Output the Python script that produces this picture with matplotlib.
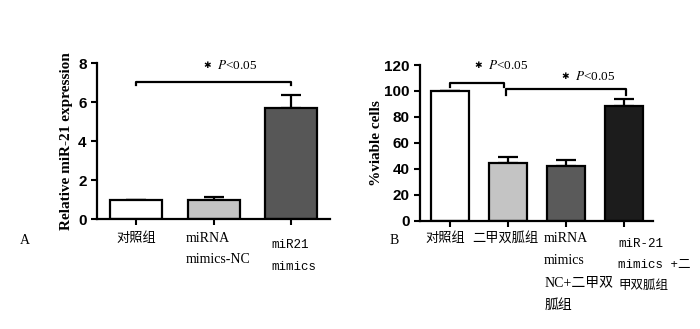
import numpy as np
import matplotlib.pyplot as plt
import matplotlib.transforms as mtransforms

plt.rcParams['mathtext.fontset'] = 'stix'

# panel A: relative miR-21 expression
a_groups = ['对照组', 'miRNA\nmimics-NC', 'miR21\nmimics']
a_values = [1.0, 1.0, 5.7]
a_errors = [0.0, 0.13, 0.68]
a_colors = ['#ffffff', '#c4c4c4', '#575757']

# panel B: % viable cells
b_groups = ['对照组', '二甲双胍组', 'miRNA\nmimics\nNC+二甲双\n胍组', 'miR-21\nmimics +二\n甲双胍组']
b_values = [100.0, 44.2, 41.9, 88.4]
b_errors = [0.0, 4.7, 5.1, 5.4]
b_colors = ['#ffffff', '#c4c4c4', '#5a5a5a', '#1c1c1c']

serif = ['Liberation Serif', 'Noto Sans CJK SC']
mono = ['Liberation Mono', 'Noto Sans CJK SC']
cjk = ['Noto Sans CJK SC', 'Liberation Serif']

fig = plt.figure(figsize=(7, 3.29), dpi=100)
axA = fig.add_axes([0.1386, 0.3343, 0.3329, 0.4742])
axB = fig.add_axes([0.6, 0.329, 0.3329, 0.4733])


def style_axes(ax):
    for s in ['top', 'right']:
        ax.spines[s].set_visible(False)
    for s in ['left', 'bottom']:
        ax.spines[s].set_linewidth(1.6)
    ax.tick_params(axis='both', width=1.5, length=4, direction='out')
    ax.tick_params(axis='x', labelbottom=False)
    for lab in ax.get_yticklabels():
        lab.set_fontfamily('Liberation Sans')
        lab.set_fontweight('bold')
        lab.set_fontsize(11)


def draw_bars(ax, values, errors, colors, width):
    x = np.arange(len(values))
    ax.bar(x, values, width=width, color=colors, edgecolor='black', linewidth=1.6, zorder=2)
    ax.errorbar(x, values, yerr=[np.zeros(len(errors)), errors], fmt='none',
                ecolor='black', elinewidth=1.6, capsize=7, capthick=1.6, zorder=1)
    ax.set_xticks(x)
    return x


def bracket(ax, x0, x1, y, drop):
    ax.plot([x0, x0, x1, x1], [y - drop, y, y, y - drop], color='black', lw=1.6,
            clip_on=False, solid_joinstyle='round')


def sig_label(ax, x, y):
    # x is where the italic P starts; the star sits just left of it
    ax.annotate('\u2731', (x, y), xytext=(-7.5, 0), textcoords='offset points',
                ha='center', va='center', fontsize=6.5, family='DejaVu Sans',
                annotation_clip=False)
    ax.annotate('$\\it{P}$<0.05', (x, y), ha='left', va='center', fontsize=9.5,
                family='Liberation Serif', annotation_clip=False)


# ---- panel A ----
draw_bars(axA, a_values, a_errors, a_colors, 0.67)
axA.set_xlim(-0.5, 2.5)
axA.set_ylim(0, 8)
axA.set_yticks([0, 2, 4, 6, 8])
style_axes(axA)
axA.set_ylabel('Relative miR-21 expression', family='Liberation Serif',
               fontweight='bold', fontsize=11, labelpad=4)
bracket(axA, 0, 2, 7.05, 0.2)
sig_label(axA, 1.05, 7.85)

trA = mtransforms.blended_transform_factory(axA.transData, axA.transAxes)
axA.text(0, -0.085, a_groups[0], transform=trA, ha='center', va='top', family=cjk, fontsize=9.5)
axA.text(0.64, -0.085, a_groups[1], transform=trA, ha='left', va='top', family=serif,
         fontsize=10, linespacing=1.75)
axA.text(1.74, -0.13, a_groups[2], transform=trA, ha='left', va='top', family=mono,
         fontsize=9, linespacing=2.05)
fig.text(20 / 700, 1 - 241 / 329, 'A', family='Liberation Serif', fontsize=10, va='center')

# ---- panel B ----
draw_bars(axB, b_values, b_errors, b_colors, 0.66)
axB.set_xlim(-0.52, 3.5)
axB.set_ylim(0, 120)
axB.set_yticks(np.arange(0, 121, 20))
style_axes(axB)
axB.set_ylabel('%viable cells', family='Liberation Serif', fontweight='bold',
               fontsize=11, labelpad=1)
bracket(axB, 0, 0.93, 106.4, 3.2)
bracket(axB, 0.96, 3.03, 101.3, 4.3)
sig_label(axB, 0.655, 119.5)
sig_label(axB, 2.16, 111)

trB = mtransforms.blended_transform_factory(axB.transData, axB.transAxes)
axB.text(-0.09, -0.07, b_groups[0], transform=trB, ha='center', va='top', family=cjk, fontsize=9.5)
axB.text(0.95, -0.07, b_groups[1], transform=trB, ha='center', va='top', family=cjk, fontsize=9.5)
axB.text(1.62, -0.07, b_groups[2], transform=trB, ha='left', va='top', family=serif,
         fontsize=10, linespacing=1.95)
axB.text(2.9, -0.11, b_groups[3], transform=trB, ha='left', va='top', family=mono,
         fontsize=9, linespacing=2.0)
fig.text(390 / 700, 1 - 241 / 329, 'B', family='Liberation Serif', fontsize=10, va='center')

fig.savefig('out.png', dpi=100)
